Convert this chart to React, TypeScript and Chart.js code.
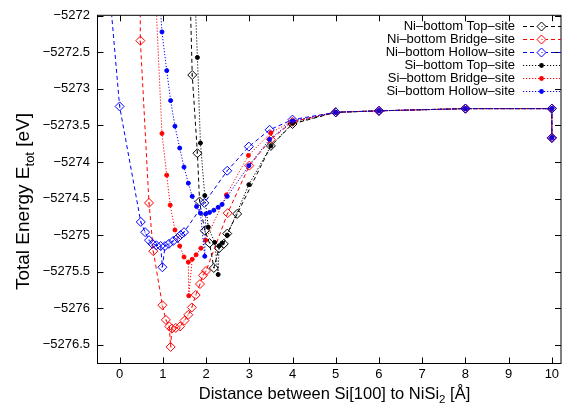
import React, { useEffect, useRef } from 'react';
import { Chart, registerables } from 'chart.js';

Chart.register(...registerables);

const FONT = '"Liberation Sans", Arial, sans-serif';

// ---- data ----
const seriesNames = [
  'Ni–bottom Top–site',
  'Ni–bottom Bridge–site',
  'Ni–bottom Hollow–site',
  'Si–bottom Top–site',
  'Si–bottom Bridge–site',
  'Si–bottom Hollow–site',
];

const niTopX = [1.62, 1.68, 1.80, 1.85, 1.97, 2.08, 2.18, 2.30, 2.41, 2.49, 2.72, 3.5, 4, 5, 6, 8, 10, 10];
const niTopY = [-5271.44, -5272.81, -5273.88, -5274.54, -5274.94, -5275.11, -5275.45, -5275.18, -5275.12, -5274.98, -5274.71, -5273.78, -5273.48, -5273.32, -5273.30, -5273.27, -5273.27, -5273.67];

const niBridgeX = [0.47, 0.48, 0.68, 0.78, 0.99, 1.07, 1.15, 1.18, 1.21, 1.30, 1.40, 1.50, 1.59, 1.67, 1.76, 1.86, 1.93, 2.0, 2.5, 3.0, 3.5, 4, 5, 6, 8, 10, 10];
const niBridgeY = [-5271.2, -5272.34, -5274.56, -5275.22, -5275.96, -5276.16, -5276.25, -5276.53, -5276.28, -5276.27, -5276.25, -5276.17, -5276.09, -5275.99, -5275.82, -5275.67, -5275.55, -5275.49, -5274.70, -5274.05, -5273.69, -5273.45, -5273.32, -5273.30, -5273.27, -5273.27, -5273.67];

const niHollowX = [-0.3, 0, 0.49, 0.59, 0.68, 0.76, 0.85, 0.95, 0.99, 1.05, 1.14, 1.24, 1.34, 1.41, 1.49, 1.96, 2.49, 2.99, 3.47, 4, 5, 6, 8, 10, 10];
const niHollowY = [-5271.2, -5273.24, -5274.82, -5274.96, -5275.07, -5275.12, -5275.14, -5275.15, -5275.44, -5275.15, -5275.12, -5275.08, -5275.04, -5275.0, -5274.96, -5274.56, -5274.12, -5273.79, -5273.56, -5273.42, -5273.32, -5273.30, -5273.27, -5273.27, -5273.67];

const siTopX = [1.74, 1.80, 1.87, 1.97, 2.05, 2.20, 2.28, 2.30, 2.37, 2.49, 2.99, 3.5, 4, 5, 6, 8, 10, 10];
const siTopY = [-5271.68, -5272.57, -5273.74, -5274.46, -5274.89, -5275.10, -5275.54, -5275.15, -5275.11, -5275.0, -5274.31, -5273.78, -5273.47, -5273.32, -5273.30, -5273.27, -5273.27, -5273.67];

const siBridgeX = [0.8, 0.98, 1.09, 1.17, 1.28, 1.39, 1.49, 1.59, 1.60, 1.68, 1.77, 1.88, 1.99, 2.47, 2.98, 3.5, 4, 5, 6, 8, 10, 10];
const siBridgeY = [-5271.3, -5273.61, -5274.18, -5274.59, -5274.93, -5275.15, -5275.30, -5275.37, -5275.83, -5275.33, -5275.27, -5275.18, -5275.07, -5274.45, -5273.91, -5273.60, -5273.44, -5273.32, -5273.30, -5273.27, -5273.27, -5273.67];

const siHollowX = [0.9, 0.98, 1.09, 1.18, 1.28, 1.39, 1.49, 1.59, 1.68, 1.78, 1.87, 1.97, 1.99, 2.08, 2.18, 2.28, 2.37, 2.49, 2.99, 3.47, 4, 5, 6, 8, 10, 10];
const siHollowY = [-5271.5, -5272.22, -5272.75, -5273.16, -5273.51, -5273.81, -5274.07, -5274.29, -5274.47, -5274.61, -5274.70, -5275.29, -5274.71, -5274.69, -5274.66, -5274.62, -5274.58, -5274.47, -5274.05, -5273.69, -5273.44, -5273.32, -5273.30, -5273.27, -5273.27, -5273.67];

const xTicks = [0, 1, 2, 3, 4, 5, 6, 7, 8, 9, 10];
const yTicks = [-5272, -5272.5, -5273, -5273.5, -5274, -5274.5, -5275, -5275.5, -5276, -5276.5];

const X_MIN = -0.5;
const X_MAX = 10.2;
const Y_MIN = -5276.75;
const Y_MAX = -5272;

// ---- styles ----
const seriesXs = [niTopX, niBridgeX, niHollowX, siTopX, siBridgeX, siHollowX];
const seriesYs = [niTopY, niBridgeY, niHollowY, siTopY, siBridgeY, siHollowY];
const colors = ['#000000', '#ff0000', '#0000ff', '#000000', '#ff0000', '#0000ff'];
const DASHED = [4, 3];
const DOTTED = [1.2, 1.8];

const isDiamond = (i: number) => i < 3;

function drawPlugin() {
  return {
    id: 'gnuplotDecor',
    afterDatasetsDraw(chart: any) {
      const { ctx, chartArea: a } = chart;
      ctx.save();
      ctx.beginPath();
      ctx.rect(a.left, a.top, a.right - a.left, a.bottom - a.top);
      ctx.clip();
      chart.data.datasets.forEach((ds: any, i: number) => {
        if (!isDiamond(i)) return;
        const meta = chart.getDatasetMeta(i);
        ctx.fillStyle = colors[i];
        meta.data.forEach((pt: any) => {
          ctx.fillRect(Math.round(pt.x) - 0.5, Math.round(pt.y) - 0.5, 1, 1);
        });
      });
      ctx.restore();
    },
    afterDraw(chart: any) {
      const { ctx, chartArea: a, scales } = chart;
      const L = a.left - 0.5;
      const R = a.right + 0.5;
      const T = a.top - 0.5;
      const B = a.bottom + 0.5;
      ctx.save();
      ctx.strokeStyle = '#000';
      ctx.lineWidth = 1;
      ctx.setLineDash([]);
      ctx.strokeRect(L, T, R - L, B - T);
      const tl = 6;
      ctx.beginPath();
      xTicks.forEach((v) => {
        const px = Math.round(scales.x.getPixelForValue(v)) + 0.5;
        ctx.moveTo(px, B);
        ctx.lineTo(px, B - tl);
        ctx.moveTo(px, T);
        ctx.lineTo(px, T + tl);
      });
      yTicks.forEach((v) => {
        const py = Math.round(scales.y.getPixelForValue(v)) + 0.5;
        ctx.moveTo(L, py);
        ctx.lineTo(L + tl, py);
        ctx.moveTo(R, py);
        ctx.lineTo(R - tl, py);
      });
      ctx.stroke();

      // legend
      ctx.font = `13px ${FONT}`;
      ctx.textAlign = 'right';
      ctx.textBaseline = 'middle';
      seriesNames.forEach((name, i) => {
        const y = 26 + 13 * i;
        ctx.fillStyle = '#000';
        ctx.fillText(name, 515, y);
        ctx.strokeStyle = colors[i];
        ctx.lineWidth = 1;
        ctx.setLineDash(isDiamond(i) ? DASHED : DOTTED);
        ctx.beginPath();
        ctx.moveTo(523, y + 0.5);
        ctx.lineTo(561, y + 0.5);
        ctx.stroke();
        ctx.setLineDash([]);
        const cx = 541.5;
        if (isDiamond(i)) {
          ctx.fillStyle = '#fff';
          ctx.beginPath();
          ctx.moveTo(cx - 4.5, y + 0.5);
          ctx.lineTo(cx, y - 4);
          ctx.lineTo(cx + 4.5, y + 0.5);
          ctx.lineTo(cx, y + 5);
          ctx.closePath();
          ctx.fill();
          ctx.stroke();
          ctx.fillStyle = colors[i];
          ctx.fillRect(Math.round(cx) - 0.5, Math.round(y), 1, 1);
        } else {
          ctx.fillStyle = colors[i];
          ctx.beginPath();
          ctx.arc(cx, y + 0.5, 2.4, 0, Math.PI * 2);
          ctx.fill();
        }
      });

      // axis titles
      ctx.fillStyle = '#000';
      ctx.textAlign = 'left';
      ctx.textBaseline = 'alphabetic';
      // x title
      const xParts: [string, number, number][] = [
        ['Distance between Si[100] to NiSi', 16.5, 0],
        ['2', 11.5, 4.5],
        [' [Å]', 16.5, 0],
      ];
      let w = 0;
      xParts.forEach(([t, s]) => { ctx.font = `${s}px ${FONT}`; w += ctx.measureText(t).width; });
      let x = 334.5 - w / 2;
      xParts.forEach(([t, s, off]) => {
        ctx.font = `${s}px ${FONT}`;
        ctx.fillText(t, x, 398.5 + off);
        x += ctx.measureText(t).width;
      });
      // y title
      const yParts: [string, number, number][] = [
        ['Total Energy E', 19, 0],
        ['tot', 13, 5],
        [' [eV]', 19, 0],
      ];
      w = 0;
      yParts.forEach(([t, s]) => { ctx.font = `${s}px ${FONT}`; w += ctx.measureText(t).width; });
      ctx.translate(28.5, 201.5);
      ctx.rotate(-Math.PI / 2);
      x = -w / 2;
      yParts.forEach(([t, s, off]) => {
        ctx.font = `${s}px ${FONT}`;
        ctx.fillText(t, x, off);
        x += ctx.measureText(t).width;
      });
      ctx.restore();
    },
  };
}

export default function App() {
  const ref = useRef<HTMLCanvasElement | null>(null);
  useEffect(() => {
    document.body.style.margin = '0';
    const canvas = ref.current;
    if (!canvas) return;
    const datasets = seriesNames.map((name, i) => ({
      label: name,
      data: seriesXs[i].map((xv, j) => ({ x: xv, y: seriesYs[i][j] })),
      borderColor: colors[i],
      backgroundColor: colors[i],
      borderWidth: 1,
      borderDash: isDiamond(i) ? DASHED : DOTTED,
      pointStyle: isDiamond(i) ? 'rectRot' : 'circle',
      pointRadius: isDiamond(i) ? 4.5 : 2,
      pointBorderWidth: 1,
      pointBorderColor: colors[i],
      pointBackgroundColor: isDiamond(i) ? 'rgba(0,0,0,0)' : colors[i],
      fill: false,
      tension: 0,
      order: 5 - i,
    }));
    const chart = new Chart(canvas, {
      type: 'line',
      data: { datasets },
      options: {
        animation: false,
        responsive: false,
        events: [],
        layout: { padding: { left: 0, right: 3, top: 13, bottom: 0 } },
        plugins: { legend: { display: false }, tooltip: { enabled: false } },
        scales: {
          x: {
            type: 'linear',
            min: X_MIN,
            max: X_MAX,
            grid: { display: false, drawTicks: false },
            border: { display: false },
            afterBuildTicks: (s: any) => { s.ticks = xTicks.map((v) => ({ value: v })); },
            afterFit: (s: any) => { s.height = 41; },
            ticks: {
              color: '#000',
              font: { family: FONT, size: 13 },
              padding: 4,
              maxRotation: 0,
              autoSkip: false,
              callback: (v: any) => String(v),
            },
          },
          y: {
            type: 'linear',
            min: Y_MIN,
            max: Y_MAX,
            grid: { display: false, drawTicks: false },
            border: { display: false },
            afterBuildTicks: (s: any) => { s.ticks = yTicks.map((v) => ({ value: v })); },
            afterFit: (s: any) => { s.width = 98; },
            ticks: {
              color: '#000',
              font: { family: FONT, size: 13 },
              padding: 8,
              autoSkip: false,
              callback: (v: any) => String(v).replace('-', '−'),
            },
          },
        },
      },
      plugins: [drawPlugin()],
    } as any);
    return () => chart.destroy();
  }, []);
  return (
    <div style={{ width: 566, height: 404 }}>
      <canvas ref={ref} width={566} height={404} style={{ display: 'block' }} />
    </div>
  );
}
